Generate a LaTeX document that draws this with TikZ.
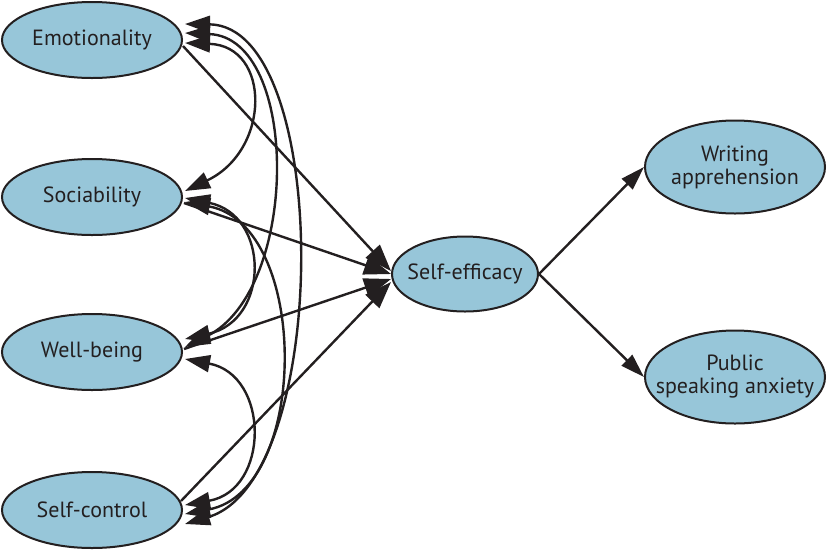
\documentclass[tikz,border=0pt]{standalone}
\usepackage{fontspec}
\setmainfont{PT Sans}
\usetikzlibrary{shapes.geometric,arrows.meta}
\definecolor{nodefill}{RGB}{151,198,217}
\definecolor{ink}{RGB}{35,31,32}
\newcommand{\myzb}[1]{\makebox[0pt]{#1}}
\begin{document}
\begin{tikzpicture}[x=1pt,y=-1pt,
  var/.style={ellipse,draw=ink,line width=2pt,fill=nodefill,minimum width=180pt,
    minimum height=76pt,inner sep=0pt,align=center,
    font=\fontsize{22}{23}\selectfont,text=ink},
  cov/.style={draw=ink,line width=2.4pt,
    {Triangle[length=25pt,width=17pt]}-{Triangle[length=25pt,width=17pt]}},
  reg/.style={draw=ink,line width=2.4pt,-{Triangle[length=27pt,width=19pt]}},
  regout/.style={draw=ink,line width=2.4pt,-{Triangle[length=24pt,width=15pt]}},
]
\useasboundingbox (0,0) rectangle (827,550);

% variables
\node[var] (emo) at (92,40)  {\myzb{Emotionality}};
\node[var] (soc) at (92,197) {\myzb{Sociability}};
\node[var] (wb)  at (92,352) {\myzb{Well-being}};
\node[var] (sc)  at (92,510) {\myzb{Self-control}};
\node[var,minimum width=146pt,minimum height=75pt] (se) at (465,274) {\myzb{Self-efficacy}};
\node[var,minimum height=93pt] (wa)  at (735,167) {\myzb{Writing}\\\myzb{apprehension}};
\node[var,minimum height=93pt] (psa) at (735,377) {\myzb{Public}\\\myzb{speaking anxiety}};

% arrowhead tip points beside the predictors
\coordinate (e1) at ([shift={(2,-16)}]emo.east);
\coordinate (e2) at ([shift={(2,-7)}]emo.east);
\coordinate (e3) at ([shift={(2,3)}]emo.east);
\coordinate (s1) at ([shift={(2,-6)}]soc.east);
\coordinate (s2) at ([shift={(2,1)}]soc.east);
\coordinate (s3) at ([shift={(2,5)}]soc.east);
\coordinate (w1) at ([shift={(2,-13)}]wb.east);
\coordinate (w2) at ([shift={(2,-5)}]wb.east);
\coordinate (w3) at ([shift={(2,7)}]wb.east);
\coordinate (c1) at ([shift={(2,-5)}]sc.east);
\coordinate (c2) at ([shift={(2,4)}]sc.east);
\coordinate (c3) at ([shift={(2,14)}]sc.east);

% covariances
\draw[cov] (e3) .. controls (271,46) and (271,150) .. (s1);
\draw[cov] (e2) .. controls (300,38) and (300,290) .. (w2);
\draw[cov] (e1) .. controls (332,26) and (332,480) .. (c3);
\draw[cov] (s2) .. controls (270,215) and (270,320) .. (w1);
\draw[cov] (s3) .. controls (310,225) and (310,490) .. (c2);
\draw[cov] (w3) .. controls (270,375) and (270,490) .. (c1);

% paths to self-efficacy
\draw[reg] ([shift={(0,6)}]emo.east) -- ([shift={(0,-3)}]se.west);
\draw[reg] ([shift={(1,6)}]soc.east) -- ([shift={(0,0)}]se.west);
\draw[reg] ([shift={(1,-3)}]wb.east) -- ([shift={(0,5)}]se.west);
\draw[reg] ([shift={(-2,-9)}]sc.east) -- ([shift={(0,8)}]se.west);

% outcomes
\draw[regout] (se.east) -- (wa.west);
\draw[regout] (se.east) -- (psa.west);
\end{tikzpicture}
\end{document}
